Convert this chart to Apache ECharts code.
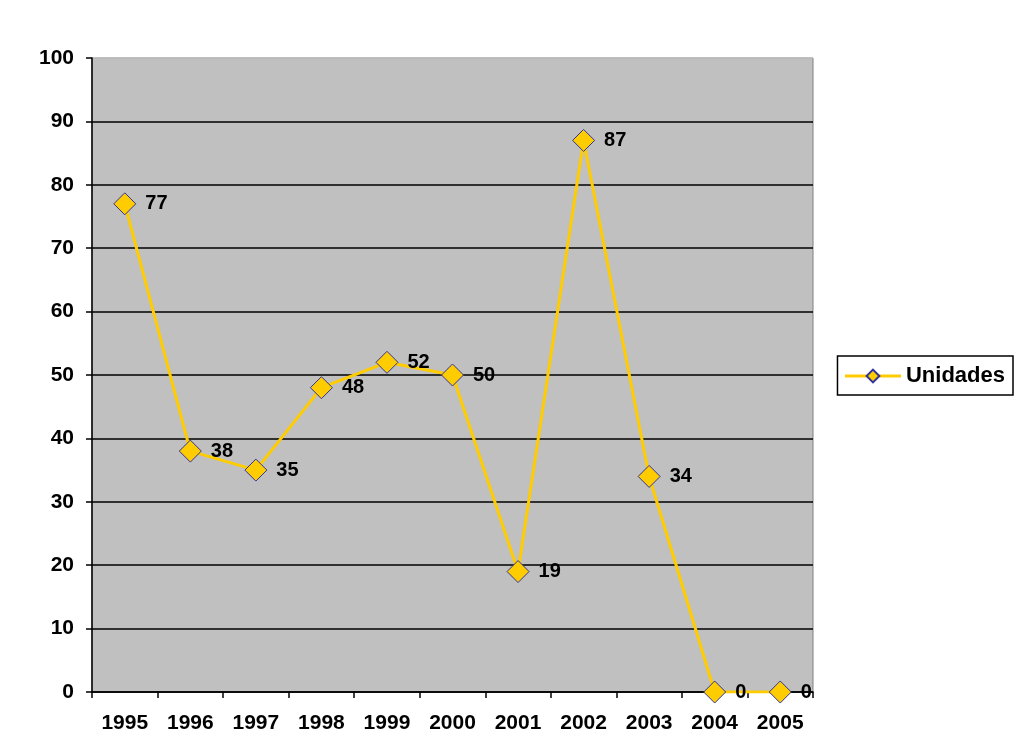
<!DOCTYPE html>
<html><head><meta charset="utf-8">
<script src="https://cdn.jsdelivr.net/npm/echarts@6/dist/echarts.min.js"></script>
<style>html,body{margin:0;padding:0;background:#fff}#c{width:1016px;height:736px}</style>
</head><body><div id="c"></div>
<script>
const years = ['1995','1996','1997','1998','1999','2000','2001','2002','2003','2004','2005'];
const unidades = [77, 38, 35, 48, 52, 50, 19, 87, 34, 0, 0];
const seriesName = 'Unidades';

const chart = echarts.init(document.getElementById('c'));
const font = '"Liberation Sans", Arial, sans-serif';
chart.setOption({
  animation: false,
  backgroundColor: '#ffffff',
  grid: {left: 92, right: 203, top: 58, bottom: 44, show: true, backgroundColor: '#C0C0C0', borderColor: '#808080', borderWidth: 1},
  legend: {
    show: true, right: 3, top: 356, orient: 'vertical',
    padding: [9, 8, 8, 6], borderColor: '#000', borderWidth: 1.5,
    itemWidth: 56, itemHeight: 16, itemGap: 5,
    lineStyle: {width: 3},
    textStyle: {fontFamily: font, fontWeight: 'bold', fontSize: 22, color: '#000'},
    data: [seriesName]
  },
  xAxis: {
    type: 'category', data: years, boundaryGap: true,
    axisLine: {lineStyle: {color: '#000', width: 1.5}},
    axisTick: {show: true, length: 6, lineStyle: {color: '#000', width: 1.5}},
    axisLabel: {fontFamily: font, fontWeight: 'bold', fontSize: 21, color: '#000', margin: 21}
  },
  yAxis: {
    type: 'value', min: 0, max: 100, interval: 10,
    axisLine: {show: true, lineStyle: {color: '#000', width: 1.5}},
    axisTick: {show: true, length: 6, lineStyle: {color: '#000', width: 1.5}},
    axisLabel: {fontFamily: font, fontWeight: 'bold', fontSize: 21, color: '#000', margin: 18},
    splitLine: {show: true, lineStyle: {color: ['#000','#000','#000','#000','#000','#000','#000','#000','#000','#000','#C0C0C0'], width: 1.5}}
  },
  series: [{
    name: seriesName, type: 'line', data: unidades,
    lineStyle: {color: '#FFCC00', width: 3},
    itemStyle: {color: '#FFCC00', borderColor: '#333399', borderWidth: 1},
    symbol: 'diamond', symbolSize: 22,
    label: {show: true, position: 'right', distance: 9, fontFamily: font, fontWeight: 'bold', fontSize: 20, color: '#000'}
  }]
});
</script></body></html>
